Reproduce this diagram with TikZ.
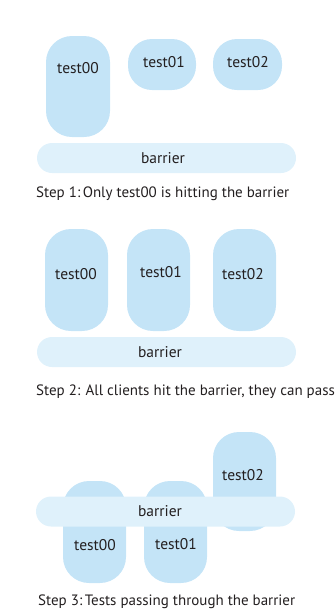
\documentclass[tikz,border=0pt]{standalone}
\usepackage{fontspec}
\setmainfont{PT Sans}
\definecolor{boxblue}{RGB}{196,228,247}
\definecolor{barblue}{RGB}{223,241,251}
\definecolor{ink}{RGB}{35,31,32}
\begin{document}
\begin{tikzpicture}[x=1pt,y=-1pt,
  tbox/.style={fill=boxblue, draw=none, rounded corners=26pt, inner sep=0pt},
  bbox/.style={fill=barblue, draw=none, rounded corners=15pt, inner sep=0pt, minimum width=259pt, minimum height=30pt},
  lbl/.style={text=ink, font=\fontsize{15.5}{18}\selectfont, inner sep=0pt},
  captext/.style={text=ink, font=\fontsize{15}{18}\selectfont, inner sep=0pt, anchor=west}]
\useasboundingbox (0,0) rectangle (335,611);
% Panel 1
\node[tbox, minimum width=64pt, minimum height=101pt] (a0) at (78,86.5) {};
\node[tbox, rounded corners=24pt, minimum width=68pt, minimum height=51pt] (a1) at (162,64.5) {};
\node[tbox, rounded corners=24pt, minimum width=69pt, minimum height=51pt] (a2) at (247.5,64.5) {};
\node[bbox] (ab) at (166.5,158) {};
\node[lbl] (a0t) at (78,68) {test00};
\node[lbl] (a1t) at (164,62) {test01};
\node[lbl] (a2t) at (248,62) {test02};
\node[lbl] (abt) at (163,158) {barrier};
\node[captext] (c1) at (36,194) {Step 1:\,Only test00 is hitting the barrier};
% Panel 2
\node[tbox, minimum width=63pt, minimum height=102pt] (b0) at (76.5,280) {};
\node[tbox, minimum width=63pt, minimum height=102pt] (b1) at (158.5,280) {};
\node[tbox, minimum width=63pt, minimum height=102pt] (b2) at (244.5,280) {};
\node[bbox] (bb) at (166.5,352) {};
\node[lbl] (b0t) at (76,274) {test00};
\node[lbl] (b1t) at (161,272) {test01};
\node[lbl] (b2t) at (243,274) {test02};
\node[lbl] (bbt) at (160,352) {barrier};
\node[captext] (c2) at (36,392) {Step 2: All clients hit the barrier, they can pass};
% Panel 3
\node[tbox, minimum width=63pt, minimum height=102pt] (d0) at (94.5,532) {};
\node[tbox, minimum width=63pt, minimum height=102pt] (d1) at (175.5,532) {};
\node[tbox, minimum width=63pt, minimum height=99pt] (d2) at (244.5,481.5) {};
\node[bbox] (db) at (165.5,511.5) {};
\node[lbl] (d0t) at (95,545) {test00};
\node[lbl] (d1t) at (176,544) {test01};
\node[lbl] (d2t) at (243,475) {test02};
\node[lbl] (dbt) at (160,511) {barrier};
\node[captext] (c3) at (38,602) {Step 3:\,Tests passing through the barrier};
\end{tikzpicture}
\end{document}
